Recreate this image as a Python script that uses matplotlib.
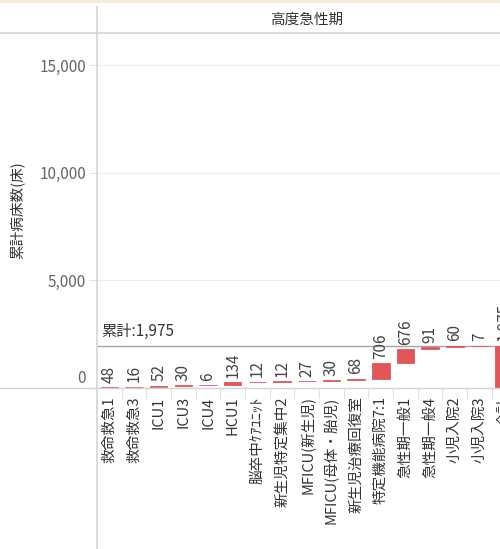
import matplotlib
matplotlib.use("Agg")
import matplotlib.pyplot as plt
import matplotlib.transforms as mtransforms
from matplotlib.lines import Line2D
from matplotlib.patches import Rectangle
import numpy as np

plt.rcParams['font.family'] = ['Noto Sans CJK JP', 'DejaVu Sans']

categories = ['救命救急1', '救命救急3', 'ICU1', 'ICU3', 'ICU4', 'HCU1',
              '脳卒中ｹｱﾕﾆｯﾄ', '新生児特定集中2', 'MFICU(新生児)',
              'MFICU(母体・胎児)', '新生児治療回復室', '特定機能病院7:1',
              '急性期一般1', '急性期一般4', '小児入院2', '小児入院3']
values = [48, 16, 52, 30, 6, 134, 12, 12, 27, 30, 68, 706, 676, 91, 60, 7]
total_label = '合計'
panel_title = '高度急性期'
y_title = '累計病床数(床)'
y_ticks = [0, 5000, 10000, 15000]

W, H = 500, 549
fig = plt.figure(figsize=(W / 100, H / 100), dpi=100)

def fx(x):
    return x / W

def fy(y):
    return 1 - y / H

# axes geometry (pixels)
ax_left, ax_top, ax_bottom = 97, 33, 388
ax_right = 516.5
ax = fig.add_axes([fx(ax_left), fy(ax_bottom), fx(ax_right) - fx(ax_left), fy(ax_top) - fy(ax_bottom)])

bar_color = '#e15759'
n = len(values)
cum = np.cumsum(values)
starts = np.concatenate([[0], cum[:-1]])
total = cum[-1]

x = np.arange(n)
ax.bar(x, values, bottom=starts, width=0.71, color=bar_color,
       edgecolor=bar_color, linewidth=0.6, zorder=3)
ax.bar([n], [total], bottom=[0], width=0.71, color=bar_color,
       edgecolor=bar_color, linewidth=0.6, zorder=3)

# value labels
for i, (s, v) in enumerate(zip(starts, values)):
    ax.annotate(f'{v:,}', (i, s + v), xytext=(0, 3), textcoords='offset points',
                rotation=90, ha='center', va='bottom', fontsize=11, color='#444444',
                zorder=4)
ax.annotate(f'{total:,}', (n, total), xytext=(0, 3), textcoords='offset points',
            rotation=90, ha='center', va='bottom', fontsize=11, color='#444444', zorder=4)

# reference line
ax.axhline(total, color='#a6a6a6', lw=1.0, zorder=2)
ax.annotate(f'累計:{total:,}', (0, total), xycoords=('axes fraction', 'data'),
            xytext=(3, 4), textcoords='offset points', ha='left', va='bottom',
            fontsize=11, color='#333333')

ax.set_xlim(-0.5, n + 0.5)
ax.set_ylim(0, 16500)
ax.set_xticks(list(x) + [n])
ax.set_xticklabels(categories + [total_label], rotation=90, fontsize=10.5, color='#333333')
ax.tick_params(axis='x', length=0, pad=6)
ax.set_yticks(y_ticks)
ax.set_yticklabels([f'{t:,}' for t in y_ticks], fontsize=11, color='#666666')
ax.tick_params(axis='y', length=6, color='#e6e6e6', pad=2)
ax.grid(axis='y', color='#ededed', lw=0.8, zorder=0)
ax.set_axisbelow(True)
for sp in ax.spines.values():
    sp.set_visible(False)

# shift 0 label up (Tableau style)
for lab in ax.get_yticklabels():
    if lab.get_text() == '0':
        lab.set_transform(lab.get_transform() +
                          mtransforms.ScaledTranslation(0, 8 / 72, fig.dpi_scale_trans))

# category separators below the axis
trans = mtransforms.blended_transform_factory(ax.transData, ax.transAxes)
sep_len = 10 / (ax_bottom - ax_top)
for i in range(n + 1):
    ax.plot([i + 0.5, i + 0.5], [0, -sep_len], transform=trans, color='#e0e0e0',
            lw=0.8, clip_on=False)

# frame lines
lc = '#d4d4d4'
fig.add_artist(Rectangle((0, fy(3)), 1, 1 - fy(3), transform=fig.transFigure,
                         color='#f6ebdc', lw=0))
fig.add_artist(Line2D([0, 1], [fy(33), fy(33)], color=lc, lw=1.2))
fig.add_artist(Line2D([0, 1], [fy(388), fy(388)], color=lc, lw=1.0))
fig.add_artist(Line2D([fx(97), fx(97)], [fy(7), 0], color=lc, lw=1.2))

# header and y title
fig.text(fx((ax_left + ax_right) / 2), fy(20), panel_title, ha='center', va='center',
         fontsize=10.5, color='#333333')
fig.text(fx(17), fy((ax_top + ax_bottom) / 2), y_title, rotation=90, ha='center',
         va='center', fontsize=10.5, color='#333333')

fig.savefig('out.png', dpi=100)
